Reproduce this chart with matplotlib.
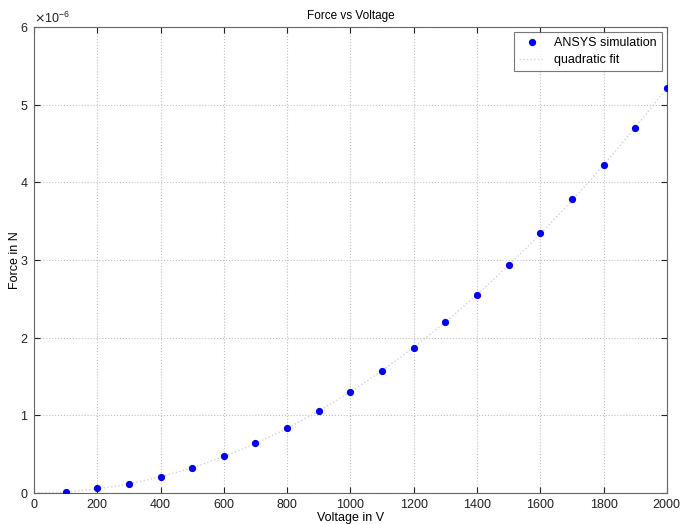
import numpy as np
import matplotlib
matplotlib.use("Agg")
import matplotlib.pyplot as plt
from matplotlib.ticker import ScalarFormatter

plt.rcParams['font.family'] = ['Liberation Sans', 'DejaVu Sans']

voltage = [100, 200, 300, 400, 500, 600, 700, 800, 900, 1000,
           1100, 1200, 1300, 1400, 1500, 1600, 1700, 1800, 1900, 2000]
force = [0.01, 0.06, 0.12, 0.21, 0.32, 0.47, 0.64, 0.84, 1.06, 1.30,
         1.57, 1.87, 2.20, 2.55, 2.93, 3.35, 3.78, 4.22, 4.70, 5.21]
force = [f * 1e-6 for f in force]

coef = np.polyfit(voltage, force, 2)
vfit = np.linspace(0, 2000, 200)
ffit = np.polyval(coef, vfit)

fig = plt.figure(figsize=(6.86, 5.24), dpi=100)
ax = fig.add_axes([0.0496, 0.0592, 0.9224, 0.8893])

ax.plot(voltage, force, 'o', color='#0000ee', markersize=4.2, label='ANSYS simulation', zorder=3)
ax.plot(vfit, ffit, ':', color='#ccd4d4', linewidth=1.0, label='quadratic fit', zorder=2)

ax.set_xlim(0, 2000)
ax.set_ylim(0, 6e-6)
ax.set_xticks(np.arange(0, 2001, 200))
ax.set_yticks(np.arange(0, 6.01e-6, 1e-6))
fmt = ScalarFormatter(useMathText=True)
fmt.set_powerlimits((0, 0))
ax.yaxis.set_major_formatter(fmt)
ax.yaxis.get_offset_text().set_fontsize(9)

ax.grid(True, linestyle=':', color='#c0c0c0', linewidth=0.8)
for s in ax.spines.values():
    s.set_color('#666666')
ax.tick_params(direction='in', labelsize=9, colors='#222222', length=4, pad=4)
ax.tick_params(top=True, right=True)

ax.set_title('Force vs Voltage', fontsize=8.5, pad=6)
ax.set_xlabel('Voltage in V', fontsize=9, labelpad=1)
ax.set_ylabel('Force in N', fontsize=9, labelpad=-1)

leg = ax.legend(loc='upper right', fontsize=9, frameon=True, fancybox=False,
                edgecolor='#555555', borderaxespad=0.4, handlelength=2.0,
                labelspacing=0.4, borderpad=0.4)
leg.get_frame().set_linewidth(0.8)

fig.savefig('out.png', dpi=100)
